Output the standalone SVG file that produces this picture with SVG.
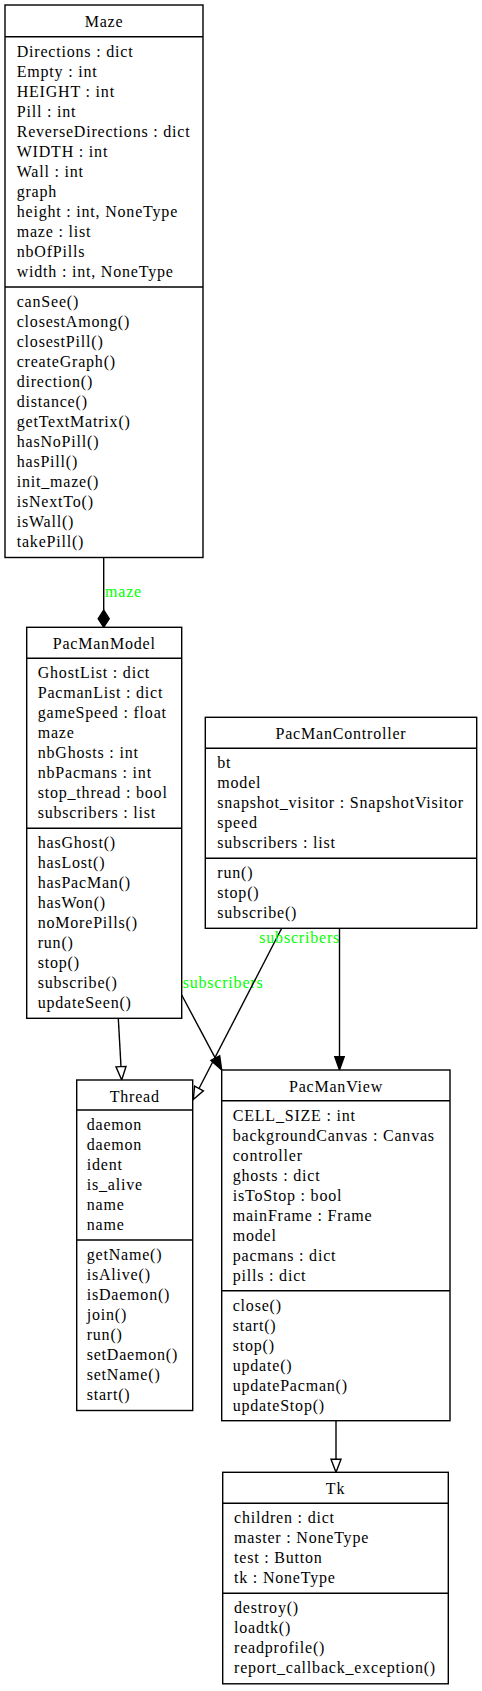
<svg xmlns="http://www.w3.org/2000/svg" width="482" height="1691" viewBox="0 0 482 1691">
<style>
.box{fill:#fff;stroke:#000;stroke-width:1.4}
.sep{stroke:#000;stroke-width:1.4}
text{font-family:"Liberation Serif","Times New Roman",serif;font-size:16px;letter-spacing:0.8px;fill:#000}
.t{text-anchor:middle}
.lbl{fill:#00ff00}
.edge{fill:none;stroke:#000;stroke-width:1.4}
.filled{fill:#000;stroke:#000;stroke-width:1.4}
.hollow{fill:#fff;stroke:#000;stroke-width:1.4}
</style>
<rect width="482" height="1691" fill="#fff"/>
<g id="connectors">
<line class="edge" x1="103.7" y1="557.5" x2="103.7" y2="610"/>
<polygon class="filled" points="103.7,610 98.2,618.7 103.7,627.3 109.2,618.7"/>
<text class="lbl" x="105" y="597">maze</text>
<line class="edge" x1="118.3" y1="1018.3" x2="121" y2="1066.7"/>
<polygon class="hollow" points="121.7,1080 116,1066.9 126,1066.4"/>
<path class="edge" d="M181.7,995 L215.3,1058.1"/>
<polygon class="filled" points="221.7,1070 219.7,1055.8 210.9,1060.5"/>
<text class="lbl" x="182.7" y="988.3">subscribers</text>
<path class="edge" d="M281.7,928.3 L199,1088.5"/>
<polygon class="hollow" points="193.3,1099.5 203.4,1090.8 194.6,1086.2"/>
<text class="lbl" x="259.3" y="943.3">subscribers</text>
<line class="edge" x1="339.5" y1="928.3" x2="339.5" y2="1056.7"/>
<polygon class="filled" points="339.5,1070 334.8,1056.7 344.2,1056.7"/>
<line class="edge" x1="336" y1="1420.7" x2="336" y2="1459.3"/>
<polygon class="hollow" points="336,1472.3 331,1459.3 341,1459.3"/>
</g>
<g id="Maze">
<rect class="box" x="5" y="5" width="198" height="552.5"/>
<line class="sep" x1="5" y1="36.7" x2="203" y2="36.7"/>
<line class="sep" x1="5" y1="287" x2="203" y2="287"/>
<text class="t" x="104" y="26.7">Maze</text>
<text x="16.7" y="56.7">Directions : dict</text>
<text x="16.7" y="76.7">Empty : int</text>
<text x="16.7" y="96.7">HEIGHT : int</text>
<text x="16.7" y="116.7">Pill : int</text>
<text x="16.7" y="136.7">ReverseDirections : dict</text>
<text x="16.7" y="156.7">WIDTH : int</text>
<text x="16.7" y="176.7">Wall : int</text>
<text x="16.7" y="196.7">graph</text>
<text x="16.7" y="216.7">height : int, NoneType</text>
<text x="16.7" y="236.7">maze : list</text>
<text x="16.7" y="256.7">nbOfPills</text>
<text x="16.7" y="276.7">width : int, NoneType</text>
<text x="16.7" y="307">canSee()</text>
<text x="16.7" y="327">closestAmong()</text>
<text x="16.7" y="347">closestPill()</text>
<text x="16.7" y="367">createGraph()</text>
<text x="16.7" y="387">direction()</text>
<text x="16.7" y="407">distance()</text>
<text x="16.7" y="427">getTextMatrix()</text>
<text x="16.7" y="447">hasNoPill()</text>
<text x="16.7" y="467">hasPill()</text>
<text x="16.7" y="487">init_maze()</text>
<text x="16.7" y="507">isNextTo()</text>
<text x="16.7" y="527">isWall()</text>
<text x="16.7" y="547">takePill()</text>
</g>
<g id="PacManModel">
<rect class="box" x="26.7" y="627.3" width="155" height="391"/>
<line class="sep" x1="26.7" y1="658.3" x2="181.7" y2="658.3"/>
<line class="sep" x1="26.7" y1="828.3" x2="181.7" y2="828.3"/>
<text class="t" x="104.2" y="649">PacManModel</text>
<text x="37.7" y="678.3">GhostList : dict</text>
<text x="37.7" y="698.3">PacmanList : dict</text>
<text x="37.7" y="718.3">gameSpeed : float</text>
<text x="37.7" y="738.3">maze</text>
<text x="37.7" y="758.3">nbGhosts : int</text>
<text x="37.7" y="778.3">nbPacmans : int</text>
<text x="37.7" y="798.3">stop_thread : bool</text>
<text x="37.7" y="818.3">subscribers : list</text>
<text x="37.7" y="848.3">hasGhost()</text>
<text x="37.7" y="868.3">hasLost()</text>
<text x="37.7" y="888.3">hasPacMan()</text>
<text x="37.7" y="908.3">hasWon()</text>
<text x="37.7" y="928.3">noMorePills()</text>
<text x="37.7" y="948.3">run()</text>
<text x="37.7" y="968.3">stop()</text>
<text x="37.7" y="988.3">subscribe()</text>
<text x="37.7" y="1008.3">updateSeen()</text>
</g>
<g id="PacManController">
<rect class="box" x="205.3" y="717.3" width="271.4" height="211"/>
<line class="sep" x1="205.3" y1="748.3" x2="476.7" y2="748.3"/>
<line class="sep" x1="205.3" y1="858.3" x2="476.7" y2="858.3"/>
<text class="t" x="341" y="739">PacManController</text>
<text x="217.3" y="768.3">bt</text>
<text x="217.3" y="788.3">model</text>
<text x="217.3" y="808.3">snapshot_visitor : SnapshotVisitor</text>
<text x="217.3" y="828.3">speed</text>
<text x="217.3" y="848.3">subscribers : list</text>
<text x="217.3" y="878.3">run()</text>
<text x="217.3" y="898.3">stop()</text>
<text x="217.3" y="918.3">subscribe()</text>
</g>
<g id="Thread">
<rect class="box" x="76.7" y="1080" width="116" height="330.5"/>
<line class="sep" x1="76.7" y1="1110" x2="192.7" y2="1110"/>
<line class="sep" x1="76.7" y1="1240" x2="192.7" y2="1240"/>
<text class="t" x="134.7" y="1101.5">Thread</text>
<text x="86.7" y="1130">daemon</text>
<text x="86.7" y="1150">daemon</text>
<text x="86.7" y="1170">ident</text>
<text x="86.7" y="1190">is_alive</text>
<text x="86.7" y="1210">name</text>
<text x="86.7" y="1230">name</text>
<text x="86.7" y="1260">getName()</text>
<text x="86.7" y="1280">isAlive()</text>
<text x="86.7" y="1300">isDaemon()</text>
<text x="86.7" y="1320">join()</text>
<text x="86.7" y="1340">run()</text>
<text x="86.7" y="1360">setDaemon()</text>
<text x="86.7" y="1380">setName()</text>
<text x="86.7" y="1400">start()</text>
</g>
<g id="PacManView">
<rect class="box" x="221.7" y="1070" width="228.3" height="350.7"/>
<line class="sep" x1="221.7" y1="1100.7" x2="450" y2="1100.7"/>
<line class="sep" x1="221.7" y1="1290.7" x2="450" y2="1290.7"/>
<text class="t" x="336" y="1091.5">PacManView</text>
<text x="232.7" y="1120.7">CELL_SIZE : int</text>
<text x="232.7" y="1140.7">backgroundCanvas : Canvas</text>
<text x="232.7" y="1160.7">controller</text>
<text x="232.7" y="1180.7">ghosts : dict</text>
<text x="232.7" y="1200.7">isToStop : bool</text>
<text x="232.7" y="1220.7">mainFrame : Frame</text>
<text x="232.7" y="1240.7">model</text>
<text x="232.7" y="1260.7">pacmans : dict</text>
<text x="232.7" y="1280.7">pills : dict</text>
<text x="232.7" y="1310.7">close()</text>
<text x="232.7" y="1330.7">start()</text>
<text x="232.7" y="1350.7">stop()</text>
<text x="232.7" y="1370.7">update()</text>
<text x="232.7" y="1390.7">updatePacman()</text>
<text x="232.7" y="1410.7">updateStop()</text>
</g>
<g id="Tk">
<rect class="box" x="222.7" y="1472.3" width="225.6" height="211.5"/>
<line class="sep" x1="222.7" y1="1503.3" x2="448.3" y2="1503.3"/>
<line class="sep" x1="222.7" y1="1593.3" x2="448.3" y2="1593.3"/>
<text class="t" x="335.5" y="1494">Tk</text>
<text x="234" y="1523.3">children : dict</text>
<text x="234" y="1543.3">master : NoneType</text>
<text x="234" y="1563.3">test : Button</text>
<text x="234" y="1583.3">tk : NoneType</text>
<text x="234" y="1613.3">destroy()</text>
<text x="234" y="1633.3">loadtk()</text>
<text x="234" y="1653.3">readprofile()</text>
<text x="234" y="1673.3">report_callback_exception()</text>
</g>
</svg>
